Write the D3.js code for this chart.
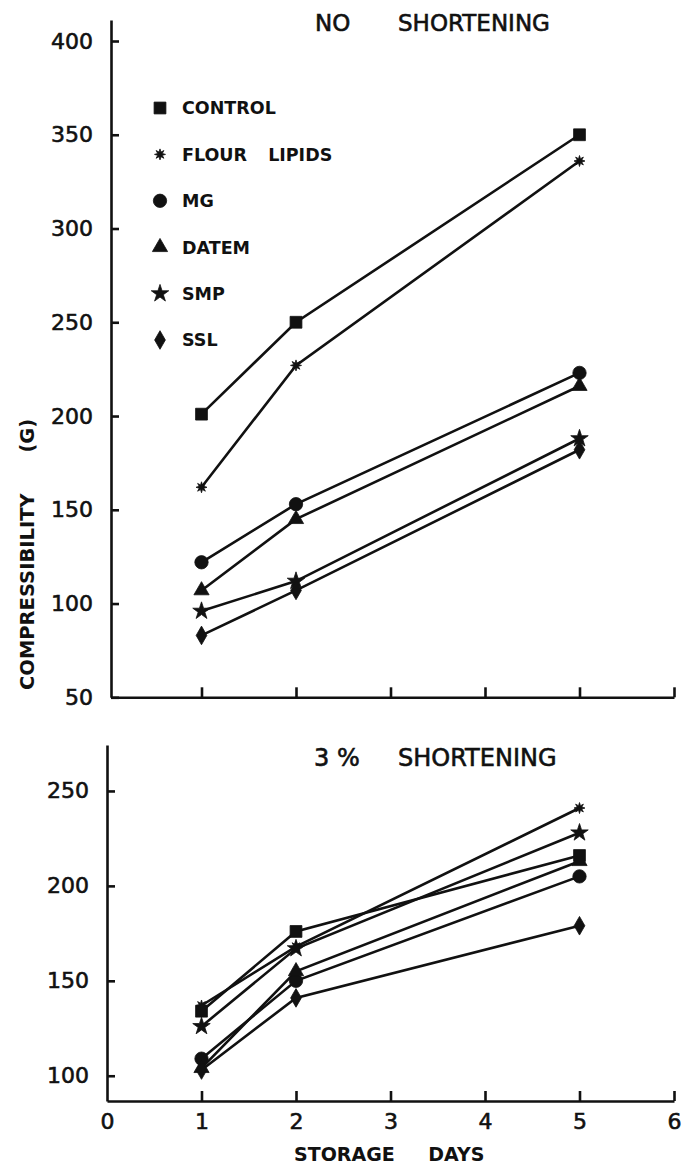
<!DOCTYPE html>
<html>
<head>
<meta charset="utf-8">
<script src="https://cdn.jsdelivr.net/npm/d3@7"></script>
<style>
  body { margin: 0; background: #fff; }
  svg { display: block; font-family: "DejaVu Sans", sans-serif; }
</style>
</head>
<body>
<svg id="chart" width="692" height="1166"></svg>
<script>
// storage days and treatments
const days = [1, 2, 5];
const treatments = ["CONTROL", "FLOUR LIPIDS", "MG", "DATEM", "SMP", "SSL"];

// no shortening, compressibility (g)
const noControl = [201, 250, 350];
const noFlourLipids = [162, 227, 336];
const noMG = [122, 153, 223];
const noDATEM = [107, 145, 216];
const noSMP = [96, 112, 188];
const noSSL = [83, 107, 182];

// 3% shortening
const shControl = [134, 176, 216];
const shFlourLipids = [137, 168, 241];
const shMG = [109, 150, 205];
const shDATEM = [104, 155, 213];
const shSMP = [126, 167, 228];
const shSSL = [103, 141, 179];

const topTicks = [50, 100, 150, 200, 250, 300, 350, 400];
const bottomTicks = [100, 150, 200, 250];
const dayTicks = [0, 1, 2, 3, 4, 5, 6];

const seriesNo = [noControl, noFlourLipids, noMG, noDATEM, noSMP, noSSL]
  .map((v, i) => ({name: treatments[i], values: v}));
const seriesSh = [shControl, shFlourLipids, shMG, shDATEM, shSMP, shSSL]
  .map((v, i) => ({name: treatments[i], values: v}));

const ink = "#111";
const svg = d3.select("#chart");

// small 8 point burst for flour lipids
function burst(r) {
  return d3.lineRadial().curve(d3.curveLinearClosed)(
    d3.range(16).map(i => [i * Math.PI / 8, i % 2 ? r * 0.45 : r]));
}
const marker = {
  "CONTROL": d3.symbol(d3.symbolSquare, 140)(),
  "FLOUR LIPIDS": burst(5.5),
  "MG": d3.symbol(d3.symbolCircle, 140)(),
  "DATEM": d3.symbol(d3.symbolTriangle, 100)(),
  "SMP": d3.symbol(d3.symbolStar, 95)(),
  "SSL": d3.symbol(d3.symbolDiamond, 100)()
};

const x = d3.scaleLinear().domain([0, 6]).range([107, 674]);

function styleText(sel) {
  sel.attr("font-size", 22).attr("fill", ink)
    .attr("stroke", ink).attr("stroke-width", 0.6)
    .attr("font-family", "DejaVu Sans");
}

function panel(series, y, ticks, axisX, showLabels) {
  const g = svg.append("g");

  // y axis
  const ya = g.append("g")
    .attr("transform", `translate(${axisX},0)`)
    .call(d3.axisLeft(y).tickValues(ticks).tickSize(-8).tickSizeOuter(0).tickPadding(18));
  ya.selectAll("path, line").attr("stroke", ink).attr("stroke-width", 2.6);
  ya.selectAll("text").call(styleText);

  // x axis
  const xa = g.append("g")
    .attr("transform", `translate(0,${y.range()[0]})`)
    .call(d3.axisBottom(x.copy().range([axisX, 674]).domain([x.invert(axisX), 6]))
      .tickValues(showLabels ? dayTicks : dayTicks.slice(1))
      .tickFormat(d3.format("d"))
      .tickSize(-10).tickSizeOuter(0).tickPadding(12));
  xa.selectAll("path, line").attr("stroke", ink).attr("stroke-width", 2.6);
  xa.selectAll("text").call(styleText);
  if (!showLabels) xa.selectAll("text").remove();
  xa.selectAll(".tick").filter(d => d === 0).select("line").remove();

  const line = d3.line().x((d, i) => x(days[i])).y(d => y(d));

  g.selectAll(".series")
    .data(series)
    .join("path")
      .attr("class", "series")
      .attr("d", d => line(d.values))
      .attr("fill", "none")
      .attr("stroke", ink)
      .attr("stroke-width", 2.6);

  g.selectAll(".pts")
    .data(series)
    .join("g")
      .attr("class", "pts")
    .selectAll("path")
    .data(d => d.values.map((v, i) => ({name: d.name, day: days[i], v})))
    .join("path")
      .attr("transform", d => `translate(${x(d.day)},${y(d.v)})`)
      .attr("d", d => marker[d.name])
      .attr("fill", ink)
      .attr("stroke", ink)
      .attr("stroke-width", 0.8);
  return g;
}

// top panel: no shortening
const yTop = d3.scaleLinear().domain([50, 411.2]).range([697.3, 20]);
panel(seriesNo, yTop, topTicks, 111, false);

// bottom panel: 3% shortening
const yBot = d3.scaleLinear().domain([86.7, 274.2]).range([1101, 745]);
panel(seriesSh, yBot, bottomTicks, 107, true);

// titles
const t1 = svg.append("text").attr("y", 31).attr("font-size", 23)
  .attr("fill", ink).attr("stroke", ink).attr("stroke-width", 0.6);
t1.append("tspan").attr("x", 315).text("NO");
t1.append("tspan").attr("x", 398).text("SHORTENING");

const t2 = svg.append("text").attr("y", 766).attr("font-size", 24)
  .attr("fill", ink).attr("stroke", ink).attr("stroke-width", 0.6);
t2.append("tspan").attr("x", 314).text("3 %");
t2.append("tspan").attr("x", 398).text("SHORTENING");

// legend
const legend = svg.append("g").attr("transform", "translate(160,108)");
const item = legend.selectAll("g")
  .data(treatments)
  .join("g")
    .attr("transform", (d, i) => `translate(0,${i * 46.4})`);
item.append("path")
  .attr("d", d => marker[d])
  .attr("fill", ink)
  .attr("stroke", ink)
  .attr("stroke-width", 0.8);
item.append("text")
  .attr("x", 22)
  .attr("dy", "0.36em")
  .attr("font-size", 17.5)
  .attr("font-weight", "bold")
  .attr("fill", ink)
  .style("word-spacing", "15px")
  .text(d => d);

// axis titles
svg.append("text")
  .attr("transform", "translate(34,690) rotate(-90)")
  .attr("font-size", 19.5)
  .attr("font-weight", "bold")
  .attr("fill", ink)
  .style("word-spacing", "34px")
  .text("COMPRESSIBILITY (G)");

svg.append("text")
  .attr("x", 294)
  .attr("y", 1161)
  .attr("font-size", 19)
  .attr("font-weight", "bold")
  .attr("fill", ink)
  .style("word-spacing", "27px")
  .text("STORAGE DAYS");
</script>
</body>
</html>
